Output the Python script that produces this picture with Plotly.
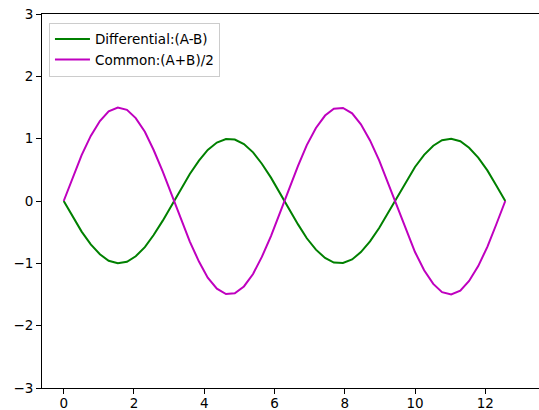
import plotly.graph_objects as go

x_vals = [0.00, 0.26, 0.51, 0.77, 1.03, 1.28, 1.54, 1.80, 2.05, 2.31,
          2.56, 2.82, 3.08, 3.33, 3.59, 3.85, 4.10, 4.36, 4.62, 4.87,
          5.13, 5.39, 5.64, 5.90, 6.15, 6.41, 6.67, 6.92, 7.18, 7.44,
          7.69, 7.95, 8.21, 8.46, 8.72, 8.98, 9.23, 9.49, 9.75, 10.00,
          10.26, 10.52, 10.77, 11.03, 11.29, 11.54, 11.80, 12.06, 12.31, 12.57]

differential = [0.000, -0.254, -0.491, -0.696, -0.855, -0.959, -1.000, -0.975, -0.887, -0.740,
                -0.546, -0.315, -0.064, 0.191, 0.434, 0.648, 0.820, 0.938, 0.995, 0.987,
                0.914, 0.781, 0.598, 0.375, 0.128, -0.128, -0.375, -0.598, -0.781, -0.914,
                -0.987, -0.995, -0.938, -0.820, -0.648, -0.434, -0.191, 0.064, 0.315, 0.546,
                0.740, 0.887, 0.975, 1.000, 0.959, 0.855, 0.696, 0.491, 0.254, 0.000]

common = [0.000, 0.381, 0.736, 1.044, 1.283, 1.438, 1.499, 1.462, 1.330, 1.111,
          0.818, 0.473, 0.096, -0.287, -0.651, -0.972, -1.230, -1.407, -1.493, -1.480,
          -1.371, -1.171, -0.897, -0.563, -0.192, 0.192, 0.563, 0.897, 1.171, 1.371,
          1.480, 1.493, 1.407, 1.230, 0.972, 0.651, 0.287, -0.096, -0.473, -0.818,
          -1.111, -1.330, -1.462, -1.499, -1.438, -1.283, -1.044, -0.736, -0.381, 0.000]

names = ["Differential:(A-B)", "Common:(A+B)/2"]
colors = ["#008000", "#bf00bf"]

x_ticks = [0, 2, 4, 6, 8, 10, 12]
y_ticks = [-3, -2, -1, 0, 1, 2, 3]

fig = go.Figure()
for vals, name, col in zip([differential, common], names, colors):
    fig.add_trace(go.Scatter(x=x_vals, y=vals, mode="lines", name=name,
                             line=dict(color=col, width=2)))

font = dict(family="DejaVu Sans", size=13.5, color="#000000")
fig.update_layout(
    width=539, height=410,
    margin=dict(l=42, r=0, t=14, b=22, autoexpand=False),
    paper_bgcolor="white", plot_bgcolor="white",
    font=font,
    showlegend=True,
    legend=dict(x=0.014, y=0.977, xanchor="left", yanchor="top",
                bgcolor="rgba(255,255,255,0.8)", bordercolor="#cccccc", borderwidth=1,
                font=dict(family="DejaVu Sans", size=13.5, color="#000000"),
                itemwidth=35, tracegroupgap=2),
    xaxis=dict(range=[-0.618, 13.53], tickvals=x_ticks, showgrid=False, zeroline=False,
               showline=True, linecolor="#000000", linewidth=1, mirror=True,
               ticks="outside", ticklen=5, tickcolor="#000000", tickwidth=1,
               automargin=False, ticklabelstandoff=-2),
    yaxis=dict(range=[-3, 3], tickvals=y_ticks, showgrid=False, zeroline=False,
               showline=True, linecolor="#000000", linewidth=1, mirror=False,
               ticks="outside", ticklen=5, tickcolor="#000000", tickwidth=1,
               automargin=False),
)

fig.write_html("out.html",
               config={"displayModeBar": False},
               post_script="document.body.style.margin='0';document.body.style.overflow='hidden';")
